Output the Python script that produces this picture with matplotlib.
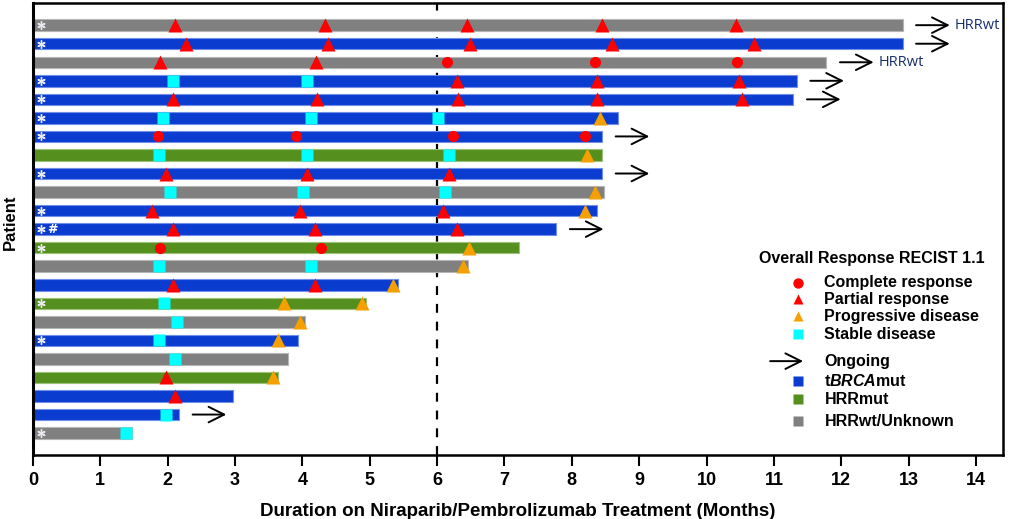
import matplotlib.pyplot as plt

# patients from top to bottom
durations = [12.91, 12.91, 11.78, 11.34, 11.29, 8.69, 8.45, 8.45, 8.45, 8.48, 8.38, 7.77,
             7.22, 6.46, 5.42, 4.95, 4.04, 3.94, 3.79, 3.64, 2.97, 2.17, 1.47]
groups = ["wt", "brca", "wt", "brca", "brca", "brca", "brca", "hrr", "brca", "wt", "brca", "brca",
          "hrr", "wt", "brca", "hrr", "wt", "brca", "wt", "hrr", "brca", "brca", "wt"]
star_rows = [0, 1, 3, 4, 5, 6, 8, 10, 11, 12, 15, 17, 22]
hash_rows = [11]
ongoing_rows = [0, 1, 2, 3, 4, 6, 8, 11, 21]
hrrwt_rows = [0, 2]

cr_rows = [2, 2, 2, 6, 6, 6, 6, 12, 12]
cr_times = [6.15, 8.35, 10.45, 1.86, 3.91, 6.24, 8.2, 1.89, 4.28]

pr_rows = [0, 0, 0, 0, 0, 1, 1, 1, 1, 1, 2, 2, 3, 3, 3, 4, 4, 4, 4, 4,
           8, 8, 8, 10, 10, 10, 11, 11, 11, 14, 14, 19, 20]
pr_times = [2.11, 4.34, 6.45, 8.45, 10.43, 2.27, 4.38, 6.49, 8.59, 10.71, 1.89, 4.2,
            6.29, 8.38, 10.48, 2.08, 4.22, 6.31, 8.38, 10.52,
            1.98, 4.07, 6.18, 1.77, 3.97, 6.08, 2.08, 4.19, 6.29, 2.08, 4.19, 1.98, 2.11]

pd_rows = [5, 7, 9, 10, 12, 13, 14, 15, 15, 16, 17, 19]
pd_times = [8.42, 8.22, 8.35, 8.19, 6.48, 6.39, 5.35, 3.73, 4.89, 3.97, 3.64, 3.57]

sd_rows = [3, 3, 5, 5, 5, 7, 7, 7, 9, 9, 9, 13, 13, 15, 16, 17, 18, 21, 22]
sd_times = [2.08, 4.07, 1.93, 4.12, 6.02, 1.87, 4.07, 6.18, 2.04, 4.01, 6.12, 1.87, 4.12,
            1.95, 2.14, 1.87, 2.11, 1.98, 1.38]

colors = {"brca": "#0a3cd0", "hrr": "#55901e", "wt": "#808080"}
edges = {"brca": "#6f8fe8", "hrr": "#9cc27a", "wt": "#b5b5b5"}

n = len(durations)
ypos = [n - i for i in range(n)]

plt.rcParams['font.family'] = ['Liberation Sans', 'DejaVu Sans']
plt.rcParams['mathtext.fontset'] = 'custom'
plt.rcParams['mathtext.it'] = 'Liberation Sans:italic:bold'
fig = plt.figure(figsize=(10.09, 5.19), dpi=100)
ax = fig.add_axes([0.0327, 0.123, 0.9613, 0.871])

ax.barh(ypos, durations, height=0.62, left=0,
        color=[colors[g] for g in groups], edgecolor=[edges[g] for g in groups], linewidth=0.8, zorder=2)

ax.axvline(6, color="black", ls=(0, (4, 4)), lw=1.6, zorder=1)

ax.plot(cr_times, [ypos[r] for r in cr_rows], 'o', color="#ff0000", ms=8, mec="none", zorder=3)
ax.plot(pr_times, [ypos[r] for r in pr_rows], '^', color="#ff0000", ms=9.5, mec="none", zorder=3)
ax.plot(pd_times, [ypos[r] for r in pd_rows], '^', color="#f5a000", ms=9.5, mec="none", zorder=3)
ax.plot(sd_times, [ypos[r] for r in sd_rows], 's', color="#00ffff", ms=8, mec="none", zorder=3)

ax.plot([0.12] * len(star_rows), [ypos[r] for r in star_rows], ls="none", marker=(6, 2, 0),
        ms=6, mew=1.0, color="#e8e8f0", zorder=4)
for r in hash_rows:
    ax.text(0.29, ypos[r], "#", color="white", fontsize=9, ha="center", va="center",
            fontweight="bold", family="DejaVu Sans", zorder=4)

for r in ongoing_rows:
    x0 = durations[r] + 0.2
    ax.annotate("", xy=(x0 + 0.5, ypos[r]), xytext=(x0, ypos[r]),
                arrowprops=dict(arrowstyle="->", lw=1.4, color="black", mutation_scale=28,
                                shrinkA=0, shrinkB=0))
for r in hrrwt_rows:
    ax.text(durations[r] + 0.78, ypos[r], "HRRwt", color="#1a2f6e", fontsize=10.5,
            family="Open Sans", va="center", ha="left")

# legend drawn by hand
lx, tx = 0.789, 0.816
lf = dict(fontsize=11.5, fontweight="bold", va="center", transform=ax.transAxes)
ax.text(0.981, 0.434, "Overall Response RECIST 1.1", ha="right", **lf)
entries = [("o", "#ff0000", "Complete response", 0.381),
           ("^", "#ff0000", "Partial response", 0.345),
           ("^", "#f5a000", "Progressive disease", 0.307),
           ("s", "#00ffff", "Stable disease", 0.268)]
for m, c, lab, yy in entries:
    ax.plot([lx], [yy], m, color=c, ms=7.5, mec="none", transform=ax.transAxes, clip_on=False)
    ax.text(tx, yy, lab, **lf)
ax.annotate("", xy=(0.794, 0.208), xytext=(0.76, 0.208), xycoords="axes fraction",
            arrowprops=dict(arrowstyle="->", lw=1.4, color="black", mutation_scale=28,
                            shrinkA=0, shrinkB=0))
ax.text(tx, 0.208, "Ongoing", **lf)
geno = [("brca", "t$\\it{BRCA}$mut", 0.164),
        ("hrr", "HRRmut", 0.124),
        ("wt", "HRRwt/Unknown", 0.075)]
for g, lab, yy in geno:
    ax.plot([lx], [yy], 's', color=colors[g], ms=6.5, mec="none", transform=ax.transAxes)
    ax.text(tx, yy, lab, **lf)

ax.set_xlim(0, 14.4)
ax.set_ylim(-0.19, n + 1.19)
ax.set_xticks(range(15))
ax.set_yticks([])
ax.tick_params(axis="x", direction="out", length=8, width=1.5, labelsize=13, pad=4)
for lab in ax.get_xticklabels():
    lab.set_fontweight("bold")
for s in ax.spines.values():
    s.set_linewidth(1.8)
ax.spines["left"].set_linewidth(2.2)

ax.set_xlabel("Duration on Niraparib/Pembrolizumab Treatment (Months)", fontsize=13.5,
              fontweight="bold", labelpad=10)
ax.set_ylabel("Patient", fontsize=12, fontweight="bold")
ax.yaxis.set_label_coords(-0.0155, 0.515)

fig.savefig("out.png", dpi=100)
